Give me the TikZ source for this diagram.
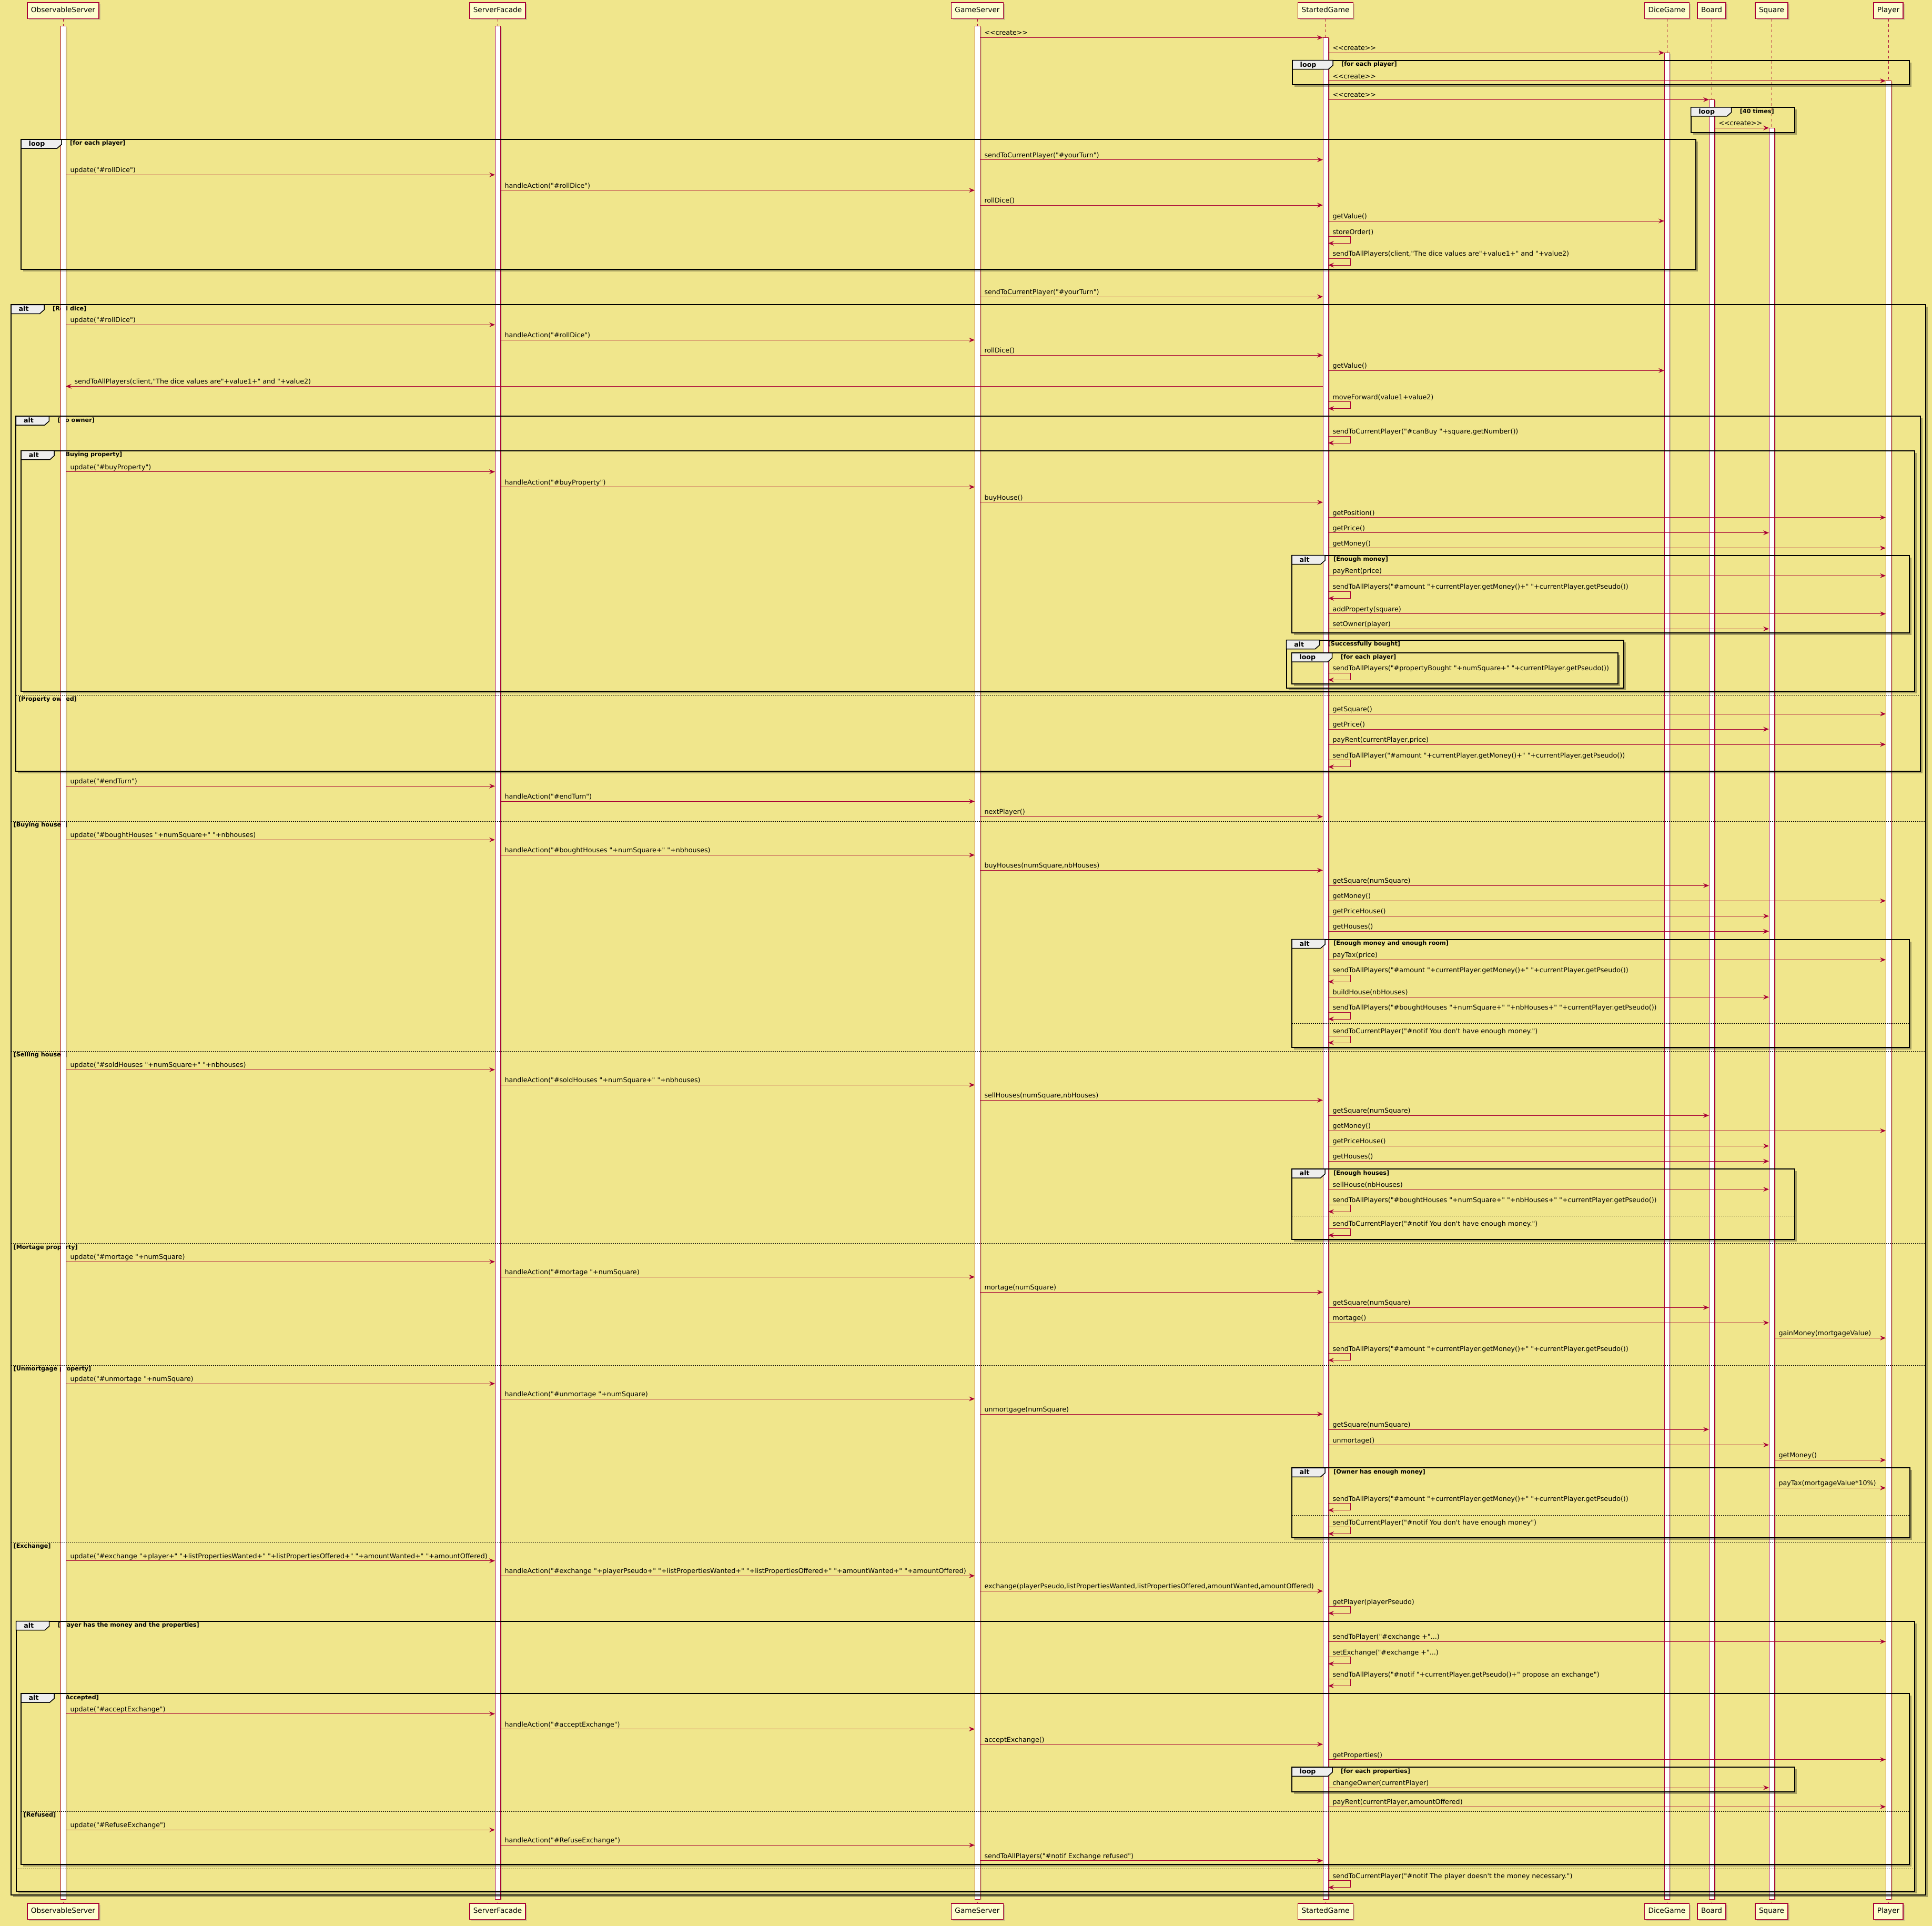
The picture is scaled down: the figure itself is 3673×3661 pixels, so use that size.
\documentclass[tikz,border=0pt]{standalone}
\usepackage{fontspec}
\newfontfamily\umlfont{DejaVu Sans}[Ligatures=TeXOff]
\usepackage{tikz}
\usetikzlibrary{arrows.meta}
\usetikzlibrary{shadows}
\definecolor{umlred}{HTML}{A80036}
\definecolor{headfill}{HTML}{FEFECE}
\definecolor{khakibg}{HTML}{F0E68C}
\definecolor{tabfill}{HTML}{EEEEEE}
\newcommand{\msgfont}{\umlfont\fontsize{12.65}{15}\selectfont}
\newcommand{\condfont}{\umlfont\bfseries\fontsize{11.2}{13}\selectfont}
\newcommand{\headfont}{\umlfont\fontsize{13.6}{16}\selectfont}
\tikzset{
	headstyle/.style={rectangle,draw=umlred,line width=1.5pt,fill=headfill,font=\headfont,inner xsep=7pt,inner ysep=0pt,minimum height=30.5pt,text height=10pt,text depth=3pt,drop shadow={shadow xshift=3pt,shadow yshift=-3pt,opacity=.3}},
	lifestyle/.style={draw=umlred,line width=1pt,dash pattern=on 5pt off 5pt},
	actstyle/.style={draw=umlred,line width=1pt,fill=white,drop shadow={shadow xshift=3pt,shadow yshift=-2pt,opacity=.25}},
	msgstyle/.style={draw=umlred,line width=1pt,-{Stealth[length=11pt,width=9pt,inset=4pt]}},
	callstyle/.style={msgstyle,shorten <=5pt,shorten >=5pt},
	rlabel/.style={font=\msgfont,anchor=base west,inner sep=0pt,pos=0,xshift=13pt,yshift=4.5pt},
	llabel/.style={font=\msgfont,anchor=base west,inner sep=0pt,pos=1,xshift=21pt,yshift=4.5pt},
	slabel/.style={font=\msgfont,anchor=base west,inner sep=0pt,xshift=8pt,yshift=4.5pt},
	framestyle/.style={draw=black,line width=2pt},
	fshadowstyle/.style={draw=black,opacity=.3,line width=3pt},
	tabstyle/.style={draw=black,line width=1.5pt,fill=tabfill},
	kwstyle/.style={font=\umlfont\bfseries\fontsize{12.65}{15}\selectfont,anchor=base west,inner sep=0pt},
	condstyle/.style={font=\condfont,anchor=base west,inner sep=0pt},
	sepstyle/.style={draw=black,line width=1pt,dash pattern=on 2pt off 2pt}
}
% guard text of a fragment: name, tab width, text, left, top
\newcommand{\fragcond}[5]{%
	\node[condstyle] (#1) at (#4+#2+16,#5+11) {#3};
}
% fragment frame: name, keyword, tab width, left, top, right, bottom
\newcommand{\frag}[7]{%
	\draw[fshadowstyle] (#4+4,#7+2.5) -- (#6+2.5,#7+2.5) -- (#6+2.5,#5+4);
	\draw[framestyle] (#4,#5) rectangle (#6,#7);
	\draw[tabstyle] (#4,#5) -- ++(#3,0) -- ++(0,9.5) -- ++(-8.5,7.5) -- (#4,#5+17) -- cycle;
	\node[kwstyle] (#1) at (#4+14.5,#5+12.5) {#2};
}

\begin{document}
\begin{tikzpicture}[x=1pt,y=-1pt]
		\fill[khakibg] (0,0) rectangle (3673,3661);
		\useasboundingbox (0,0) rectangle (3673,3661);
		\node[headstyle] (obs) at (120,20.25) {ObservableServer};
		\node[headstyle] (fac) at (946,20.25) {ServerFacade};
		\node[headstyle] (gsrv) at (1858,20.25) {GameServer};
		\node[headstyle] (sgame) at (2520,20.25) {StartedGame};
		\node[headstyle] (dice) at (3169,20.25) {DiceGame};
		\node[headstyle] (board) at (3254,20.25) {Board};
		\node[headstyle] (sq) at (3368,20.25) {Square};
		\node[headstyle] (pl) at (3590,20.25) {Player};
		\node[headstyle] (obs2) at (120,3633) {ObservableServer};
		\node[headstyle] (fac2) at (946,3633) {ServerFacade};
		\node[headstyle] (gsrv2) at (1858,3633) {GameServer};
		\node[headstyle] (sgame2) at (2520,3633) {StartedGame};
		\node[headstyle] (dice2) at (3169,3633) {DiceGame};
		\node[headstyle] (board2) at (3254,3633) {Board};
		\node[headstyle] (sq2) at (3368,3633) {Square};
		\node[headstyle] (pl2) at (3590,3633) {Player};
		\fragcond{loopplayersc}{77}{[for each player]}{2457}{114.6}
		\fragcond{loopsquaresc}{77}{[40 times]}{3214.6}{204}
		\fragcond{loopturnc}{77}{[for each player]}{40}{265}
		\fragcond{altrollc}{63}{[Roll dice]}{21}{579.3}
		\fragcond{altownerc}{63}{[No owner]}{30.4}{791}
		\fragcond{altbuyc}{63}{[Buying property]}{40.2}{856.7}
		\fragcond{altmoneyc}{63}{[Enough money]}{2456}{1055.7}
		\fragcond{altboughtc}{63}{[Successfully bought]}{2445.6}{1216.7}
		\fragcond{loopboughtc}{77}{[for each player]}{2455.7}{1241}
		\fragcond{altroomc}{63}{[Enough money and enough room]}{2456}{1785.7}
		\fragcond{althousesc}{63}{[Enough houses]}{2456}{2222}
		\fragcond{altrichc}{63}{[Owner has enough money]}{2456}{2790.3}
		\fragcond{altexchc}{63}{[Player has the money and the properties]}{30.6}{3081.7}
		\fragcond{altacceptc}{63}{[Accepted]}{40}{3219}
		\fragcond{looppropsc}{77}{[for each properties]}{2456}{3359.3}
		\node[condstyle] (sepowned) at (34.9,1332.8) {[Property owned]};
		\node[condstyle] (sepbuyh) at (25.5,1571.8) {[Buying houses]};
		\node[condstyle] (sepsellh) at (25.5,2008.8) {[Selling houses]};
		\node[condstyle] (sepmort) at (25.5,2374.1) {[Mortage property]};
		\node[condstyle] (sepunmort) at (25.5,2605.5) {[Unmortgage property]};
		\node[condstyle] (sepexch) at (25.5,2942) {[Exchange]};
		\node[condstyle] (sepref) at (44.5,3453.8) {[Refused]};
		\draw[lifestyle] (obs.south) -- (obs2.north);
		\draw[lifestyle] (fac.south) -- (fac2.north);
		\draw[lifestyle] (gsrv.south) -- (gsrv2.north);
		\draw[lifestyle] (sgame.south) -- (sgame2.north);
		\draw[lifestyle] (dice.south) -- (dice2.north);
		\draw[lifestyle] (board.south) -- (board2.north);
		\draw[lifestyle] (sq.south) -- (sq2.north);
		\draw[lifestyle] (pl.south) -- (pl2.north);
		\draw[actstyle] (obs |- 0,50) ++(-5,0) rectangle ++(10,3560);
		\draw[actstyle] (fac |- 0,50) ++(-5,0) rectangle ++(10,3560);
		\draw[actstyle] (gsrv |- 0,50) ++(-5,0) rectangle ++(10,3560);
		\draw[actstyle] (sgame |- 0,71.4) ++(-5,0) rectangle ++(10,3538.6);
		\draw[actstyle] (dice |- 0,100.4) ++(-5,0) rectangle ++(10,3509.6);
		\draw[actstyle] (pl |- 0,153.6) ++(-5,0) rectangle ++(10,3456.4);
		\draw[actstyle] (board |- 0,189.3) ++(-5,0) rectangle ++(10,3420.7);
		\draw[actstyle] (sq |- 0,243.2) ++(-5,0) rectangle ++(10,3366.8);
		\frag{loopplayers}{loop}{77}{2457}{114.6}{3630}{161.4}
		\frag{loopsquares}{loop}{77}{3214.6}{204}{3411.7}{251.8}
		\frag{loopturn}{loop}{77}{40}{265}{3224}{511.8}
		\frag{altroll}{alt}{63}{21}{579.3}{3660.7}{3601.7}
		\frag{altowner}{alt}{63}{30.4}{791}{3651}{1465.7}
		\frag{altbuy}{alt}{63}{40.2}{856.7}{3639.5}{1314}
		\frag{altmoney}{alt}{63}{2456}{1055.7}{3630}{1203.3}
		\frag{altbought}{alt}{63}{2445.6}{1216.7}{3087}{1307.7}
		\frag{loopbought}{loop}{77}{2455.7}{1241}{3076.3}{1300}
		\frag{altroom}{alt}{63}{2456}{1785.7}{3630}{1990.7}
		\frag{althouses}{alt}{63}{2456}{2222}{3411.7}{2356}
		\frag{altrich}{alt}{63}{2456}{2790.3}{3630.7}{2923.3}
		\frag{altexch}{alt}{63}{30.6}{3081.7}{3640}{3595.3}
		\frag{altaccept}{alt}{63}{40}{3219}{3630}{3544.3}
		\frag{loopprops}{loop}{77}{2456}{3359.3}{3411.7}{3406}
		\draw[sepstyle] (30.4,1322.3) -- (3651,1322.3);
		\draw[sepstyle] (21,1561.3) -- (3660.7,1561.3);
		\draw[sepstyle] (2456,1945.7) -- (3630,1945.7);
		\draw[sepstyle] (21,1998.3) -- (3660.7,1998.3);
		\draw[sepstyle] (2456,2311.7) -- (3411.7,2311.7);
		\draw[sepstyle] (21,2363.6) -- (3660.7,2363.6);
		\draw[sepstyle] (21,2595) -- (3660.7,2595);
		\draw[sepstyle] (2456,2880) -- (3630.7,2880);
		\draw[sepstyle] (21,2931.5) -- (3660.7,2931.5);
		\draw[sepstyle] (40,3443.3) -- (3630,3443.3);
		\draw[sepstyle] (30.6,3552.3) -- (3640,3552.3);
		\draw[callstyle] (gsrv |- 0,71.4) -- node[rlabel] (m1) {<<create>>} (sgame |- 0,71.4);
		\draw[callstyle] (sgame |- 0,100.4) -- node[rlabel] (m2) {<<create>>} (dice |- 0,100.4);
		\draw[callstyle] (sgame |- 0,153.6) -- node[rlabel] (m3) {<<create>>} (pl |- 0,153.6);
		\draw[callstyle] (sgame |- 0,189.3) -- node[rlabel] (m4) {<<create>>} (board |- 0,189.3);
		\draw[callstyle] (board |- 0,243.2) -- node[rlabel] (m5) {<<create>>} (sq |- 0,243.2);
		\draw[callstyle] (gsrv |- 0,303.6) -- node[rlabel] (m6) {sendToCurrentPlayer("\#yourTurn")} (sgame |- 0,303.6);
		\draw[callstyle] (obs |- 0,332.3) -- node[rlabel] (m7) {update("\#rollDice")} (fac |- 0,332.3);
		\draw[callstyle] (fac |- 0,361.7) -- node[rlabel] (m8) {handleAction("\#rollDice")} (gsrv |- 0,361.7);
		\draw[callstyle] (gsrv |- 0,390) -- node[rlabel] (m9) {rollDice()} (sgame |- 0,390);
		\draw[callstyle] (sgame |- 0,420) -- node[rlabel] (m10) {getValue()} (dice |- 0,420);
		\draw[msgstyle] (sgame |- 0,449.5) ++(5,0) node[slabel] (m11) {storeOrder()} -- ++(42,0) -- ++(0,13) -- ++(-42,0);
		\draw[msgstyle] (sgame |- 0,491) ++(5,0) node[slabel] (m12) {sendToAllPlayers(client,"The dice values are"+value1+" and "+value2)} -- ++(42,0) -- ++(0,13) -- ++(-42,0);
		\draw[callstyle] (gsrv |- 0,564) -- node[rlabel] (m13) {sendToCurrentPlayer("\#yourTurn")} (sgame |- 0,564);
		\draw[callstyle] (obs |- 0,617.3) -- node[rlabel] (m14) {update("\#rollDice")} (fac |- 0,617.3);
		\draw[callstyle] (fac |- 0,646.3) -- node[rlabel] (m15) {handleAction("\#rollDice")} (gsrv |- 0,646.3);
		\draw[callstyle] (gsrv |- 0,675.3) -- node[rlabel] (m16) {rollDice()} (sgame |- 0,675.3);
		\draw[callstyle] (sgame |- 0,704.3) -- node[rlabel] (m17) {getValue()} (dice |- 0,704.3);
		\draw[callstyle] (sgame |- 0,734.3) -- node[llabel] (m18) {sendToAllPlayers(client,"The dice values are"+value1+" and "+value2)} (obs |- 0,734.3);
		\draw[msgstyle] (sgame |- 0,763.5) ++(5,0) node[slabel] (m19) {moveForward(value1+value2)} -- ++(42,0) -- ++(0,13) -- ++(-42,0);
		\draw[msgstyle] (sgame |- 0,829) ++(5,0) node[slabel] (m20) {sendToCurrentPlayer("\#canBuy "+square.getNumber())} -- ++(42,0) -- ++(0,13) -- ++(-42,0);
		\draw[callstyle] (obs |- 0,896.7) -- node[rlabel] (m21) {update("\#buyProperty")} (fac |- 0,896.7);
		\draw[callstyle] (fac |- 0,925.7) -- node[rlabel] (m22) {handleAction("\#buyProperty")} (gsrv |- 0,925.7);
		\draw[callstyle] (gsrv |- 0,954.7) -- node[rlabel] (m23) {buyHouse()} (sgame |- 0,954.7);
		\draw[callstyle] (sgame |- 0,983.7) -- node[rlabel] (m24) {getPosition()} (pl |- 0,983.7);
		\draw[callstyle] (sgame |- 0,1012.7) -- node[rlabel] (m25) {getPrice()} (sq |- 0,1012.7);
		\draw[callstyle] (sgame |- 0,1041.7) -- node[rlabel] (m26) {getMoney()} (pl |- 0,1041.7);
		\draw[callstyle] (sgame |- 0,1094.3) -- node[rlabel] (m27) {payRent(price)} (pl |- 0,1094.3);
		\draw[msgstyle] (sgame |- 0,1124.3) ++(5,0) node[slabel] (m28) {sendToAllPlayers("\#amount "+currentPlayer.getMoney()+" "+currentPlayer.getPseudo())} -- ++(42,0) -- ++(0,13) -- ++(-42,0);
		\draw[callstyle] (sgame |- 0,1166.7) -- node[rlabel] (m29) {addProperty(square)} (pl |- 0,1166.7);
		\draw[callstyle] (sgame |- 0,1195.3) -- node[rlabel] (m30) {setOwner(player)} (sq |- 0,1195.3);
		\draw[msgstyle] (sgame |- 0,1279.3) ++(5,0) node[slabel] (m31) {sendToAllPlayers("\#propertyBought "+numSquare+" "+currentPlayer.getPseudo())} -- ++(42,0) -- ++(0,13) -- ++(-42,0);
		\draw[callstyle] (sgame |- 0,1357) -- node[rlabel] (m32) {getSquare()} (pl |- 0,1357);
		\draw[callstyle] (sgame |- 0,1386) -- node[rlabel] (m33) {getPrice()} (sq |- 0,1386);
		\draw[callstyle] (sgame |- 0,1415) -- node[rlabel] (m34) {payRent(currentPlayer,price)} (pl |- 0,1415);
		\draw[msgstyle] (sgame |- 0,1444.7) ++(5,0) node[slabel] (m35) {sendToAllPlayer("\#amount "+currentPlayer.getMoney()+" "+currentPlayer.getPseudo())} -- ++(42,0) -- ++(0,13) -- ++(-42,0);
		\draw[callstyle] (obs |- 0,1494.3) -- node[rlabel] (m36) {update("\#endTurn")} (fac |- 0,1494.3);
		\draw[callstyle] (fac |- 0,1523.3) -- node[rlabel] (m37) {handleAction("\#endTurn")} (gsrv |- 0,1523.3);
		\draw[callstyle] (gsrv |- 0,1552.3) -- node[rlabel] (m38) {nextPlayer()} (sgame |- 0,1552.3);
		\draw[callstyle] (obs |- 0,1596.3) -- node[rlabel] (m39) {update("\#boughtHouses "+numSquare+" "+nbhouses)} (fac |- 0,1596.3);
		\draw[callstyle] (fac |- 0,1625.3) -- node[rlabel] (m40) {handleAction("\#boughtHouses "+numSquare+" "+nbhouses)} (gsrv |- 0,1625.3);
		\draw[callstyle] (gsrv |- 0,1654.3) -- node[rlabel] (m41) {buyHouses(numSquare,nbHouses)} (sgame |- 0,1654.3);
		\draw[callstyle] (sgame |- 0,1683.3) -- node[rlabel] (m42) {getSquare(numSquare)} (board |- 0,1683.3);
		\draw[callstyle] (sgame |- 0,1712.3) -- node[rlabel] (m43) {getMoney()} (pl |- 0,1712.3);
		\draw[callstyle] (sgame |- 0,1741.3) -- node[rlabel] (m44) {getPriceHouse()} (sq |- 0,1741.3);
		\draw[callstyle] (sgame |- 0,1770.3) -- node[rlabel] (m45) {getHouses()} (sq |- 0,1770.3);
		\draw[callstyle] (sgame |- 0,1824.3) -- node[rlabel] (m46) {payTax(price)} (pl |- 0,1824.3);
		\draw[msgstyle] (sgame |- 0,1853) ++(5,0) node[slabel] (m47) {sendToAllPlayers("\#amount "+currentPlayer.getMoney()+" "+currentPlayer.getPseudo())} -- ++(42,0) -- ++(0,13) -- ++(-42,0);
		\draw[callstyle] (sgame |- 0,1895.3) -- node[rlabel] (m48) {buildHouse(nbHouses)} (sq |- 0,1895.3);
		\draw[msgstyle] (sgame |- 0,1924) ++(5,0) node[slabel] (m49) {sendToAllPlayers("\#boughtHouses "+numSquare+" "+nbHouses+" "+currentPlayer.getPseudo())} -- ++(42,0) -- ++(0,13) -- ++(-42,0);
		\draw[msgstyle] (sgame |- 0,1969) ++(5,0) node[slabel] (m50) {sendToCurrentPlayer("\#notif You don't have enough money.")} -- ++(42,0) -- ++(0,13) -- ++(-42,0);
		\draw[callstyle] (obs |- 0,2033.3) -- node[rlabel] (m51) {update("\#soldHouses "+numSquare+" "+nbhouses)} (fac |- 0,2033.3);
		\draw[callstyle] (fac |- 0,2062.3) -- node[rlabel] (m52) {handleAction("\#soldHouses "+numSquare+" "+nbhouses)} (gsrv |- 0,2062.3);
		\draw[callstyle] (gsrv |- 0,2091.3) -- node[rlabel] (m53) {sellHouses(numSquare,nbHouses)} (sgame |- 0,2091.3);
		\draw[callstyle] (sgame |- 0,2120.3) -- node[rlabel] (m54) {getSquare(numSquare)} (board |- 0,2120.3);
		\draw[callstyle] (sgame |- 0,2149.3) -- node[rlabel] (m55) {getMoney()} (pl |- 0,2149.3);
		\draw[callstyle] (sgame |- 0,2178.3) -- node[rlabel] (m56) {getPriceHouse()} (sq |- 0,2178.3);
		\draw[callstyle] (sgame |- 0,2207.3) -- node[rlabel] (m57) {getHouses()} (sq |- 0,2207.3);
		\draw[callstyle] (sgame |- 0,2260.6) -- node[rlabel] (m58) {sellHouse(nbHouses)} (sq |- 0,2260.6);
		\draw[msgstyle] (sgame |- 0,2290) ++(5,0) node[slabel] (m59) {sendToAllPlayers("\#boughtHouses "+numSquare+" "+nbHouses+" "+currentPlayer.getPseudo())} -- ++(42,0) -- ++(0,13) -- ++(-42,0);
		\draw[msgstyle] (sgame |- 0,2335) ++(5,0) node[slabel] (m60) {sendToCurrentPlayer("\#notif You don't have enough money.")} -- ++(42,0) -- ++(0,13) -- ++(-42,0);
		\draw[callstyle] (obs |- 0,2398.3) -- node[rlabel] (m61) {update("\#mortage "+numSquare)} (fac |- 0,2398.3);
		\draw[callstyle] (fac |- 0,2427.3) -- node[rlabel] (m62) {handleAction("\#mortage "+numSquare)} (gsrv |- 0,2427.3);
		\draw[callstyle] (gsrv |- 0,2456.3) -- node[rlabel] (m63) {mortage(numSquare)} (sgame |- 0,2456.3);
		\draw[callstyle] (sgame |- 0,2485.3) -- node[rlabel] (m64) {getSquare(numSquare)} (board |- 0,2485.3);
		\draw[callstyle] (sgame |- 0,2514.3) -- node[rlabel] (m65) {mortage()} (sq |- 0,2514.3);
		\draw[callstyle] (sq |- 0,2543.3) -- node[rlabel] (m66) {gainMoney(mortgageValue)} (pl |- 0,2543.3);
		\draw[msgstyle] (sgame |- 0,2572.5) ++(5,0) node[slabel] (m67) {sendToAllPlayers("\#amount "+currentPlayer.getMoney()+" "+currentPlayer.getPseudo())} -- ++(42,0) -- ++(0,13) -- ++(-42,0);
		\draw[callstyle] (obs |- 0,2630) -- node[rlabel] (m68) {update("\#unmortage "+numSquare)} (fac |- 0,2630);
		\draw[callstyle] (fac |- 0,2659) -- node[rlabel] (m69) {handleAction("\#unmortage "+numSquare)} (gsrv |- 0,2659);
		\draw[callstyle] (gsrv |- 0,2688) -- node[rlabel] (m70) {unmortgage(numSquare)} (sgame |- 0,2688);
		\draw[callstyle] (sgame |- 0,2717) -- node[rlabel] (m71) {getSquare(numSquare)} (board |- 0,2717);
		\draw[callstyle] (sgame |- 0,2746.5) -- node[rlabel] (m72) {unmortage()} (sq |- 0,2746.5);
		\draw[callstyle] (sq |- 0,2775.3) -- node[rlabel] (m73) {getMoney()} (pl |- 0,2775.3);
		\draw[callstyle] (sq |- 0,2828.3) -- node[rlabel] (m74) {payTax(mortgageValue*10\%)} (pl |- 0,2828.3);
		\draw[msgstyle] (sgame |- 0,2857.5) ++(5,0) node[slabel] (m75) {sendToAllPlayers("\#amount "+currentPlayer.getMoney()+" "+currentPlayer.getPseudo())} -- ++(42,0) -- ++(0,13) -- ++(-42,0);
		\draw[msgstyle] (sgame |- 0,2902.5) ++(5,0) node[slabel] (m76) {sendToCurrentPlayer("\#notif You don't have enough money")} -- ++(42,0) -- ++(0,13) -- ++(-42,0);
		\draw[callstyle] (obs |- 0,2966.7) -- node[rlabel] (m77) {update("\#exchange "+player+" "+listPropertiesWanted+" "+listPropertiesOffered+" "+amountWanted+" "+amountOffered)} (fac |- 0,2966.7);
		\draw[callstyle] (fac |- 0,2995.3) -- node[rlabel] (m78) {handleAction("\#exchange "+playerPseudo+" "+listPropertiesWanted+" "+listPropertiesOffered+" "+amountWanted+" "+amountOffered)} (gsrv |- 0,2995.3);
		\draw[callstyle] (gsrv |- 0,3024.3) -- node[rlabel] (m79) {exchange(playerPseudo,listPropertiesWanted,listPropertiesOffered,amountWanted,amountOffered)} (sgame |- 0,3024.3);
		\draw[msgstyle] (sgame |- 0,3053.5) ++(5,0) node[slabel] (m80) {getPlayer(playerPseudo)} -- ++(42,0) -- ++(0,13) -- ++(-42,0);
		\draw[callstyle] (sgame |- 0,3120.3) -- node[rlabel] (m81) {sendToPlayer("\#exchange +"...)} (pl |- 0,3120.3);
		\draw[msgstyle] (sgame |- 0,3149.5) ++(5,0) node[slabel] (m82) {setExchange("\#exchange +"...)} -- ++(42,0) -- ++(0,13) -- ++(-42,0);
		\draw[msgstyle] (sgame |- 0,3191.5) ++(5,0) node[slabel] (m83) {sendToAllPlayers("\#notif "+currentPlayer.getPseudo()+" propose an exchange")} -- ++(42,0) -- ++(0,13) -- ++(-42,0);
		\draw[callstyle] (obs |- 0,3257.6) -- node[rlabel] (m84) {update("\#acceptExchange")} (fac |- 0,3257.6);
		\draw[callstyle] (fac |- 0,3286.6) -- node[rlabel] (m85) {handleAction("\#acceptExchange")} (gsrv |- 0,3286.6);
		\draw[callstyle] (gsrv |- 0,3315.6) -- node[rlabel] (m86) {acceptExchange()} (sgame |- 0,3315.6);
		\draw[callstyle] (sgame |- 0,3344.6) -- node[rlabel] (m87) {getProperties()} (pl |- 0,3344.6);
		\draw[callstyle] (sgame |- 0,3398) -- node[rlabel] (m88) {changeOwner(currentPlayer)} (sq |- 0,3398);
		\draw[callstyle] (sgame |- 0,3434.3) -- node[rlabel] (m89) {payRent(currentPlayer,amountOffered)} (pl |- 0,3434.3);
		\draw[callstyle] (obs |- 0,3478.3) -- node[rlabel] (m90) {update("\#RefuseExchange")} (fac |- 0,3478.3);
		\draw[callstyle] (fac |- 0,3507.3) -- node[rlabel] (m91) {handleAction("\#RefuseExchange")} (gsrv |- 0,3507.3);
		\draw[callstyle] (gsrv |- 0,3536.7) -- node[rlabel] (m92) {sendToAllPlayers("\#notif Exchange refused")} (sgame |- 0,3536.7);
		\draw[msgstyle] (sgame |- 0,3574.7) ++(5,0) node[slabel] (m93) {sendToCurrentPlayer("\#notif The player doesn't the money necessary.")} -- ++(42,0) -- ++(0,13) -- ++(-42,0);
\end{tikzpicture}
\end{document}
